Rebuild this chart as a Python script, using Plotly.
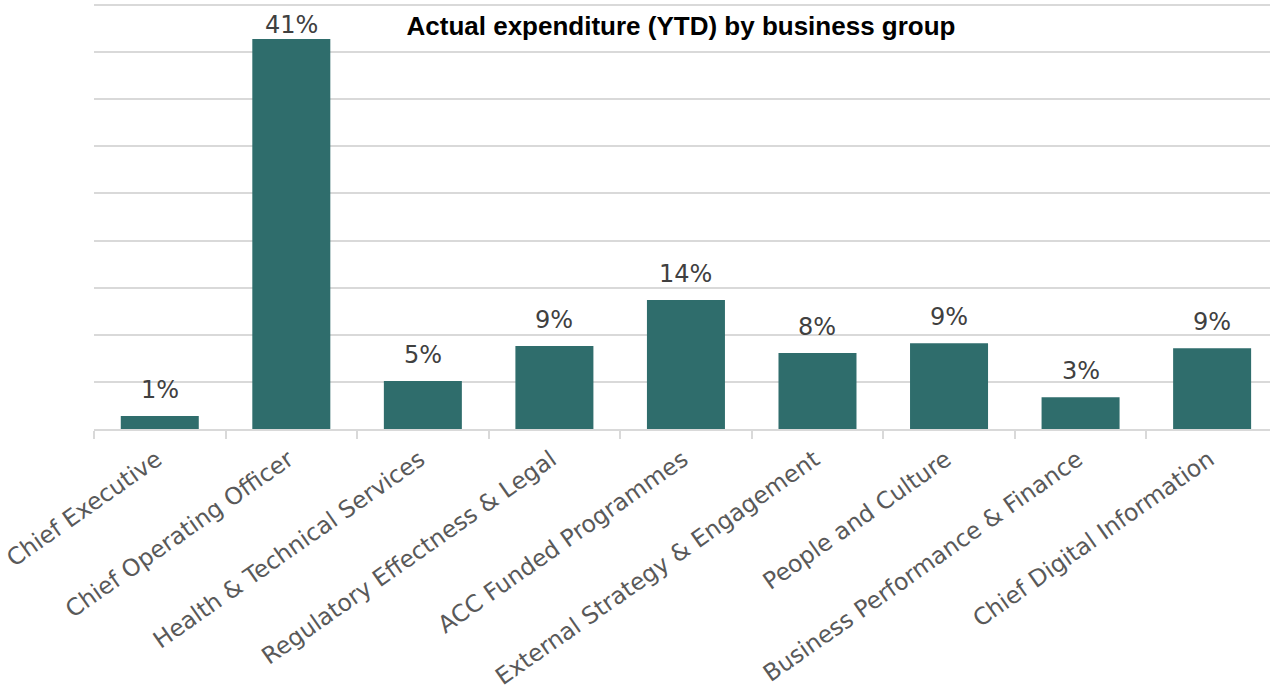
import plotly.graph_objects as go

categories = [
    "Chief Executive",
    "Chief Operating Officer",
    "Health & Technical Services",
    "Regulatory Effectness & Legal",
    "ACC Funded Programmes",
    "External Strategy & Engagement",
    "People and Culture",
    "Business Performance & Finance",
    "Chief Digital Information",
]
shares = [0.0138, 0.414, 0.051, 0.088, 0.137, 0.0807, 0.091, 0.0337, 0.0857]

BAR = "#2F6D6C"
GRID = "#D9D9D9"

Y_MAX = 0.4522
TOP, BOTTOM = 3, 263
HEIGHT = 692
PX_PER_UNIT = (HEIGHT - TOP - BOTTOM) / Y_MAX
LABEL_GAP = 10      # px lift of value labels above the bars
LABEL_ROOM = 36     # px needed between bar top and plot top for a label
GRID_TOP = 0.45

fig = go.Figure(
    go.Bar(
        x=categories,
        y=shares,
        marker=dict(color=BAR, line=dict(width=0)),
        width=0.593,
        hoverinfo="skip",
    )
)

for cat, v in zip(categories, shares):
    room = (GRID_TOP - v) * PX_PER_UNIT - LABEL_ROOM
    fig.add_annotation(
        x=cat,
        y=v,
        text=f"{v:.0%}",
        showarrow=False,
        yanchor="bottom",
        xanchor="center",
        yshift=min(LABEL_GAP, room),
        font=dict(family="DejaVu Sans", size=24, color="#404040"),
    )

fig.update_layout(
    width=1270,
    height=HEIGHT,
    margin=dict(l=94, r=0, t=TOP, b=BOTTOM, autoexpand=False),
    paper_bgcolor="white",
    plot_bgcolor="white",
    showlegend=False,
    title=dict(
        text="<b>Actual expenditure (YTD) by business group</b>",
        font=dict(family="Liberation Sans", size=26, color="black"),
        x=681 / 1270,
        xanchor="center",
        y=1 - 26 / HEIGHT,
        yanchor="middle",
    ),
    xaxis=dict(
        type="category",
        range=[-0.5, 8.44],
        automargin=False,
        tickson="boundaries",
        ticks="outside",
        ticklen=8,
        tickcolor=GRID,
        tickwidth=1.5,
        showline=True,
        linecolor=GRID,
        linewidth=1.5,
        tickangle=-35,
        ticklabelstandoff=6,
        ticklabelshift=-3,
        tickfont=dict(family="DejaVu Sans", size=23.5, color="#595959"),
        showgrid=False,
    ),
    yaxis=dict(
        range=[0, Y_MAX],
        automargin=False,
        dtick=0.05,
        tick0=0,
        showticklabels=False,
        showgrid=True,
        gridcolor=GRID,
        gridwidth=1.5,
        zeroline=False,
        ticks="",
    ),
)

fig.write_html(
    "out.html",
    config={"displayModeBar": False},
    post_script="document.body.style.margin='0';document.body.style.overflow='hidden';",
)
